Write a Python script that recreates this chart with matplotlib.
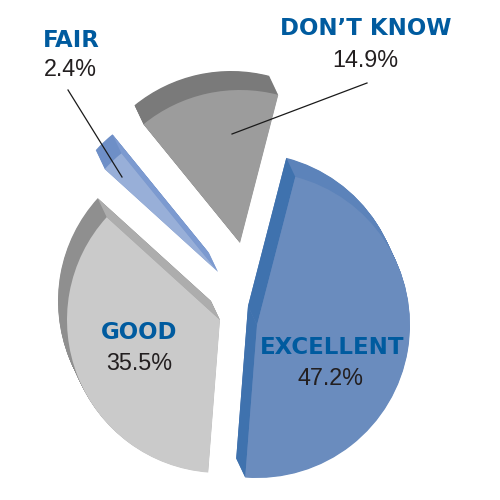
import numpy as np
import matplotlib.pyplot as plt
from matplotlib.patches import Wedge, Polygon

# data (pie order: counterclockwise from the top edge of EXCELLENT)
labels = ["DON\u2019T KNOW", "FAIR", "GOOD", "EXCELLENT"]
values = [14.9, 2.4, 35.5, 47.2]
pct_labels = ["14.9%", "2.4%", "35.5%", "47.2%"]

# styles
face_colors = ["#9c9c9c", "#98afd8", "#cacaca", "#6a8cbe"]
arc_side_colors = ["#7a7a7a", "#6e8fc7", "#8f8f8f", "#5c83ba"]
edge_side_colors = ["#8a8a8a", "#7c9ad0", "#adadad", "#3f72ae"]
label_blue = "#005b9f"
text_dark = "#231f20"

# layout in pixels (y measured from the bottom)
center = np.array([238.0, 215.0])
radius = 153
offsets = [(2, 42), (-20, 13), (-18, -35), (19, -40)]  # exploded slice shifts
depth = np.array([-9.0, 19.0])  # 3d thickness, seen up-left
label_xy = [(366, 465), (71, 453), (139, 161), (332, 146)]
pct_xy = [(365, 433), (70, 424), (139, 130), (331, 115)]
leaders = [((367, 417), (232, 366)), ((68, 410), (122, 323))]

fig = plt.figure(figsize=(5, 5), dpi=100)
ax = fig.add_axes([0, 0, 1, 1])

wedges, _ = ax.pie(values, colors=face_colors, startangle=75.5, radius=radius,
                   center=tuple(center), wedgeprops=dict(linewidth=0))

for w, off, arc_c, edge_c in zip(wedges, offsets, arc_side_colors, edge_side_colors):
    c = center + np.array(off, dtype=float)
    w.set_center(tuple(c))
    w.set_zorder(3)
    # side of the slice: copies pushed back along the depth vector
    for t in np.linspace(1, 0.03, 30):
        ax.add_patch(Wedge(tuple(c + t * depth), radius, w.theta1, w.theta2,
                           facecolor=arc_c, linewidth=0, zorder=1))
    # cut faces that can be seen
    for ang, sgn in ((w.theta1, 1), (w.theta2, -1)):
        a = np.radians(ang)
        inward = sgn * np.array([-np.sin(a), np.cos(a)])
        if inward @ depth < 0:
            tip = c + radius * np.array([np.cos(a), np.sin(a)])
            ax.add_patch(Polygon([c, tip, tip + depth, c + depth], closed=True,
                                 facecolor=edge_c, linewidth=0, zorder=2))

for (x0, y0), (x1, y1) in leaders:
    ax.plot([x0, x1], [y0, y1], color="#1a1a1a", lw=0.9, zorder=5)

for lab, (x, y) in zip(labels, label_xy):
    ax.text(x, y, lab, ha="center", va="baseline", fontsize=16.5,
            fontweight="bold", color=label_blue, family="DejaVu Sans", zorder=6)
for pct, (x, y) in zip(pct_labels, pct_xy):
    ax.text(x, y, pct, ha="center", va="baseline", fontsize=16.8,
            color=text_dark, family="Liberation Sans", zorder=6)

ax.set_xlim(0, 500)
ax.set_ylim(0, 500)
ax.set_aspect("auto")
ax.axis("off")

fig.savefig("out.png", dpi=100)
